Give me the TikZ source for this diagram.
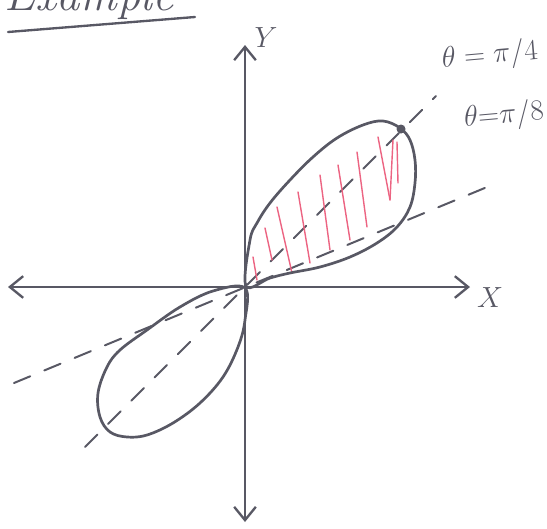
\documentclass[tikz,border=0pt]{standalone}
\usetikzlibrary{arrows.meta}
\definecolor{pencil}{RGB}{88,88,100}
\definecolor{redpen}{RGB}{236,100,130}
\tikzset{sketch/.style={x=0.03cm,y=-0.03cm,line cap=round,line join=round},
  curveline/.style={pencil,line width=2.3pt},
  axisline/.style={pencil,line width=2pt,
    {Straight Barb[length=4mm,width=6.5mm]}-{Straight Barb[length=4mm,width=6.5mm]}},
  rayline/.style={pencil,line width=1.7pt,dash pattern=on 15pt off 13pt},
  hatch/.style={redpen,line width=1.2pt},
  hand/.style={pencil,font=\fontsize{32}{34}\selectfont}}

\begin{document}
\begin{tikzpicture}[sketch]
    \useasboundingbox (0,0) rectangle (547,529);
    \clip (0,0) rectangle (547,529);
    \coordinate (O) at (245,287);
    % title, cut at the top
    \node[pencil,anchor=base west,font=\fontsize{40}{40}\selectfont\itshape] (title) at (0,10) {Example};
    \draw[pencil,line width=2pt] (8,32) -- (195,17);
    % axes
    \coordinate (xl) at (8,287);  \coordinate (xr) at (470,287);
    \coordinate (yt) at (245,45); \coordinate (yb) at (245,522);
    \draw[axisline] (xl) -- (xr);
    \draw[axisline] (yt) -- (yb);
    \node[hand] (xlab) at (490,298) {$X$};
    \node[hand] (ylab) at (266,38) {$Y$};
    % rays theta = pi/4 and pi/8
    \coordinate (q1) at (85,447);  \coordinate (q2) at (436,96);
    \coordinate (e1) at (14,383);  \coordinate (e2) at (492,185);
    \draw[rayline] (q1) -- (q2);
    \draw[rayline] (e1) -- (e2);
    \node[hand,rotate=5,font=\fontsize{29}{31}\selectfont,inner sep=1pt] (lab4) at (490,56) {$\theta=\pi/4$};
    \node[hand,rotate=5,font=\fontsize{29}{31}\selectfont,inner sep=1pt] (lab8) at (504,116) {$\theta{=}\pi/8$};
    % red hatching
    \foreach \xa/\ya/\xb/\yb in {253/257/257/280,265/228/272/260,277/207/292/273,298/192/310/263,
      320/175/330/250,338/165/350/240,357/152/367/227,378/137/390/200,390/200/393/140,397/142/398/183}
      \draw[hatch] (\xa,\ya) -- (\xb,\yb);
    % the two loops
    \draw[curveline] plot[smooth cycle,tension=0.6] coordinates {(246,286) (250,240) (257,223) (270,203)
      (290,180) (313,157) (337,138) (363,125) (383,121) (400,128) (410,140) (415,160) (415,183)
      (410,207) (397,227) (377,243) (350,257) (320,267) (290,273) (270,278)};
    \draw[curveline] plot[smooth cycle,tension=0.6] coordinates {(245,288) (213,291) (180,307) (147,330)
      (120,350) (107,367) (98,393) (100,417) (110,432) (127,437) (147,435) (173,423) (200,403)
      (223,377) (238,347) (245,320)};
    \fill[pencil] (401,129) circle (4.5);
\end{tikzpicture}
\end{document}
